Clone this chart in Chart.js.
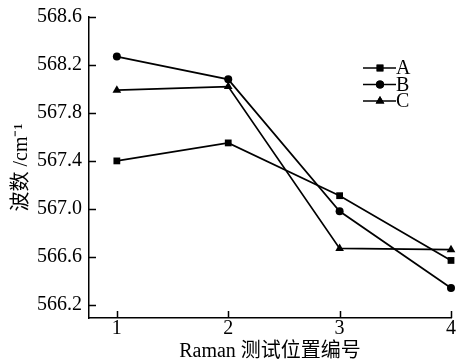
<!doctype html>
<html lang="zh">
<head>
    <meta charset="utf-8">
    <title>Raman</title>
    <script src="https://cdn.jsdelivr.net/npm/chart.js@4.4.1/dist/chart.umd.min.js"></script>
    <style>
        html, body { margin: 0; padding: 0; background: #fff; }
        #wrap { width: 456px; height: 362px; }
    </style>
</head>
<body>
<div id="wrap"><canvas id="myChart"></canvas></div>
<script type="text/javascript">
    const positions = [1, 2, 3, 4]
    const seriesA = [567.40, 567.55, 567.11, 566.57]
    const seriesB = [568.27, 568.08, 566.98, 566.34]
    const seriesC = [567.99, 568.02, 566.67, 566.66]
    const seriesNames = ['A', 'B', 'C']
    const markers = ['rect', 'circle', 'triangle']
    const yTicks = [566.2, 566.6, 567.0, 567.4, 567.8, 568.2, 568.6]
    const xTicks = [1, 2, 3, 4]

    const FONT = "'Liberation Serif', 'Noto Sans CJK SC', serif"

    function toPoints(vals) {
        return positions.map((x, i) => ({x: x, y: vals[i]}))
    }

    const datasets = [seriesA, seriesB, seriesC].map((vals, i) => ({
        label: seriesNames[i],
        data: toPoints(vals),
        borderColor: '#000',
        backgroundColor: '#000',
        borderWidth: 1.7,
        pointStyle: markers[i],
        pointRadius: i === 0 ? 4.8 : (i === 1 ? 4 : 5),
        pointBorderWidth: 0,
        tension: 0,
        clip: false
    }))

    // inward tick marks and hand drawn legend
    const extras = {
        id: 'extras',
        afterDraw(chart) {
            const ctx = chart.ctx
            const xs = chart.scales.x, ys = chart.scales.y
            const area = chart.chartArea
            ctx.save()
            ctx.strokeStyle = '#000'
            ctx.lineWidth = 1.5
            ctx.beginPath()
            yTicks.forEach(v => {
                const p = Math.round(ys.getPixelForValue(v)) + 0.5
                ctx.moveTo(area.left, p)
                ctx.lineTo(area.left + 7, p)
            })
            xTicks.forEach(v => {
                const p = Math.round(xs.getPixelForValue(v)) + 0.5
                ctx.moveTo(p, area.bottom)
                ctx.lineTo(p, area.bottom - 7)
            })
            ctx.stroke()

            // legend
            const lx = 363, ly = 68, gap = 16.5
            ctx.font = '20px ' + FONT
            ctx.fillStyle = '#000'
            ctx.textBaseline = 'middle'
            datasets.forEach((d, i) => {
                const y = ly + i * gap
                ctx.beginPath()
                ctx.lineWidth = 1.7
                ctx.moveTo(lx, y)
                ctx.lineTo(lx + 33, y)
                ctx.stroke()
                Chart.helpers.drawPoint(ctx, {
                    pointStyle: d.pointStyle,
                    radius: d.pointRadius,
                    borderWidth: 0,
                    rotation: 0
                }, lx + 17, y)
                ctx.fill()
                ctx.fillText(d.label, lx + 33, y + 1)
            })
            ctx.restore()
        }
    }

    const config = {
        type: 'line',
        data: {datasets: datasets},
        options: {
            responsive: true,
            maintainAspectRatio: false,
            animation: false,
            layout: {padding: {top: 9, right: 0, left: 0, bottom: 0}},
            plugins: {
                legend: {display: false},
                tooltip: {enabled: false}
            },
            scales: {
                x: {
                    type: 'linear',
                    min: 0.75,
                    max: 4,
                    afterBuildTicks: (s) => { s.ticks = xTicks.map(v => ({value: v})) },
                    afterFit: (s) => { s.height = 44; s.paddingRight = 0 },
                    grid: {display: false, drawTicks: false},
                    border: {display: true, color: '#000', width: 1.5},
                    ticks: {
                        color: '#000',
                        padding: 1,
                        maxRotation: 0,
                        font: {family: FONT, size: 20, lineHeight: 1},
                        callback: (v) => String(v)
                    },
                    title: {
                        display: true,
                        text: 'Raman 测试位置编号',
                        color: '#000',
                        padding: {top: 0, bottom: 0},
                        font: {family: FONT, size: 20, lineHeight: 1}
                    }
                },
                y: {
                    type: 'linear',
                    min: 566.09,
                    max: 568.6,
                    afterBuildTicks: (s) => { s.ticks = yTicks.map(v => ({value: v})) },
                    afterFit: (s) => { s.width = 89 },
                    grid: {display: false, drawTicks: false},
                    border: {display: true, color: '#000', width: 1.5},
                    ticks: {
                        color: '#000',
                        padding: 7,
                        font: {family: FONT, size: 20, lineHeight: 1},
                        callback: (v) => v.toFixed(1)
                    },
                    title: {
                        display: true,
                        text: '波数 /cm⁻¹',
                        color: '#000',
                        padding: {top: 12, bottom: 0},
                        font: {family: FONT, size: 20, lineHeight: 1}
                    }
                }
            }
        },
        plugins: [extras]
    }

    const myChart = new Chart(document.getElementById('myChart'), config)
</script>
</body>
</html>
